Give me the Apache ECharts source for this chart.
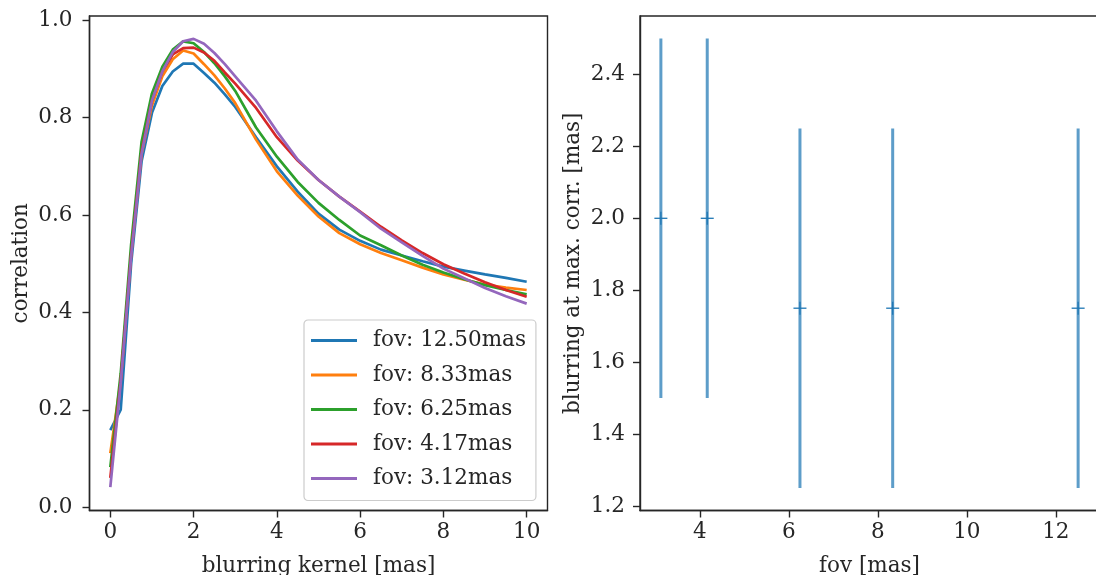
<!DOCTYPE html>
<html>
<head>
<meta charset="utf-8">
<script src="https://cdn.jsdelivr.net/npm/echarts@6/dist/echarts.min.js"></script>
<style>
html,body{margin:0;padding:0;background:#fff;}
#chart{width:1096px;height:575px;}
</style>
</head>
<body>
<div id="chart"></div>
<script>
// ---- left panel: correlation vs blurring kernel ----
const kernel = [0,0.25,0.5,0.75,1,1.25,1.5,1.75,2,2.25,2.5,2.75,3,3.5,4,4.5,5,5.5,6,6.5,7,7.5,8,8.5,9,9.5,10];
const corrFov1250 = [0.158,0.200,0.500,0.710,0.810,0.865,0.895,0.911,0.911,0.892,0.872,0.848,0.822,0.760,0.700,0.648,0.603,0.570,0.547,0.529,0.517,0.505,0.494,0.486,0.478,0.471,0.463];
const corrFov833  = [0.111,0.260,0.520,0.725,0.825,0.885,0.920,0.938,0.932,0.910,0.887,0.860,0.830,0.755,0.690,0.640,0.597,0.563,0.540,0.522,0.507,0.492,0.478,0.467,0.457,0.451,0.446];
const corrFov625  = [0.082,0.275,0.540,0.750,0.850,0.905,0.940,0.957,0.953,0.935,0.912,0.885,0.855,0.780,0.720,0.668,0.625,0.590,0.558,0.538,0.517,0.498,0.482,0.468,0.456,0.446,0.437];
const corrFov417  = [0.060,0.260,0.520,0.730,0.835,0.895,0.930,0.943,0.944,0.934,0.917,0.893,0.870,0.820,0.760,0.712,0.672,0.638,0.607,0.576,0.548,0.522,0.499,0.480,0.462,0.446,0.432];
const corrFov312  = [0.041,0.255,0.515,0.725,0.835,0.895,0.935,0.957,0.962,0.952,0.933,0.910,0.885,0.835,0.772,0.714,0.672,0.638,0.606,0.572,0.544,0.516,0.490,0.470,0.450,0.433,0.418];
const seriesNames = ['fov: 12.50mas','fov: 8.33mas','fov: 6.25mas','fov: 4.17mas','fov: 3.12mas'];
const seriesColors = ['#1f77b4','#ff7f0e','#2ca02c','#d62728','#9467bd'];
const leftXTicks = [0,2,4,6,8,10];
const leftYTicks = [0,0.2,0.4,0.6,0.8,1.0];

// ---- right panel: blurring at max corr vs fov ----
const fov = [3.125,4.1667,6.25,8.3333,12.5];
const blurAtMax = [2.0,2.0,1.75,1.75,1.75];
const blurErr = [0.5,0.5,0.5,0.5,0.5];
const rightXTicks = [4,6,8,10,12];
const rightYTicks = [1.2,1.4,1.6,1.8,2.0,2.2,2.4];

const FONT = 'DejaVu Serif';
const TXT = '#262626';
const FS = 21.5;

const corrSets = [corrFov1250,corrFov833,corrFov625,corrFov417,corrFov312];
const lineSeries = corrSets.map((arr,i)=>({
  name: seriesNames[i],
  type: 'line',
  xAxisIndex: 0, yAxisIndex: 0,
  data: kernel.map((k,j)=>[k,arr[j]]),
  showSymbol: false, symbol: 'none',
  lineStyle: {width: 2.7, color: seriesColors[i]},
  itemStyle: {color: seriesColors[i]},
  animation: false,
  z: 2 + i
}));

const errData = fov.map((f,i)=>[f, blurAtMax[i], blurErr[i]]);

function axisCommon(ticks, fmt, margin){
  return {
    axisLine: {show: true, onZero: false, lineStyle: {color: TXT, width: 1.4}},
    axisTick: {show: true, inside: false, length: 7, lineStyle: {color: TXT, width: 1.4}, customValues: ticks},
    axisLabel: {color: TXT, fontFamily: FONT, fontSize: FS, margin: margin, customValues: ticks, formatter: fmt},
    splitLine: {show: false},
    nameTextStyle: {color: TXT, fontFamily: FONT, fontSize: FS},
    nameLocation: 'middle'
  };
}

const option = {
  backgroundColor: '#fff',
  animation: false,
  grid: [
    {left: 89.5, top: 16, width: 458, height: 494.5, containLabel: false, outerBoundsMode: 'none', show: true, borderColor: TXT, borderWidth: 1.4, backgroundColor: 'transparent'},
    {left: 640, top: 16, width: 459, height: 494.5, containLabel: false, outerBoundsMode: 'none', show: true, borderColor: TXT, borderWidth: 1.4, backgroundColor: 'transparent'}
  ],
  xAxis: [
    Object.assign(axisCommon(leftXTicks, v=>String(v), 11), {type:'value', gridIndex:0, min:-0.5, max:10.5, name:'blurring kernel [mas]', nameGap: 45}),
    Object.assign(axisCommon(rightXTicks, v=>String(v), 11), {type:'value', gridIndex:1, min:2.656, max:12.969, name:'fov [mas]', nameGap: 45})
  ],
  yAxis: [
    Object.assign(axisCommon(leftYTicks, v=>v.toFixed(1), 17), {type:'value', gridIndex:0, min:-0.007, max:1.009, name:'correlation', nameGap: 57}),
    Object.assign(axisCommon(rightYTicks, v=>v.toFixed(1), 15), {type:'value', gridIndex:1, min:1.1875, max:2.5625, name:'blurring at max. corr. [mas]', nameGap: 56})
  ],
  legend: {
    show: true,
    orient: 'vertical',
    left: 304, top: 320,
    data: seriesNames.map(n=>({name:n, icon:'rect'})),
    itemWidth: 46, itemHeight: 3,
    itemGap: 10.5,
    padding: [8.5, 10, 10, 7],
    backgroundColor: 'rgba(255,255,255,0.8)',
    borderColor: '#cccccc', borderWidth: 1.2, borderRadius: 4,
    textStyle: {color: TXT, fontFamily: FONT, fontSize: FS, lineHeight: 24, padding: [0,0,0,11]},
    selectedMode: false
  },
  series: lineSeries.concat([{
    type: 'custom',
    xAxisIndex: 1, yAxisIndex: 1,
    data: errData,
    animation: false,
    renderItem: function(params, api){
      const x = api.value(0), m = api.value(1), e = api.value(2);
      const lo = api.coord([x, m - e]);
      const hi = api.coord([x, m + e]);
      const c = api.coord([x, m]);
      return {type: 'group', children: [
        {type:'line', shape:{x1:lo[0], y1:lo[1], x2:hi[0], y2:hi[1]}, style:{stroke:'#1f77b4', lineWidth:3, opacity:0.72}},
        {type:'line', shape:{x1:c[0]-6.5, y1:c[1], x2:c[0]+6.5, y2:c[1]}, style:{stroke:'#1f77b4', lineWidth:1.3}},
        {type:'line', shape:{x1:c[0], y1:c[1]-6.5, x2:c[0], y2:c[1]+6.5}, style:{stroke:'#1f77b4', lineWidth:1.3}}
      ]};
    }
  }])
};

const chart = echarts.init(document.getElementById('chart'), null, {renderer: 'canvas'});
chart.setOption(option);
</script>
</body>
</html>
